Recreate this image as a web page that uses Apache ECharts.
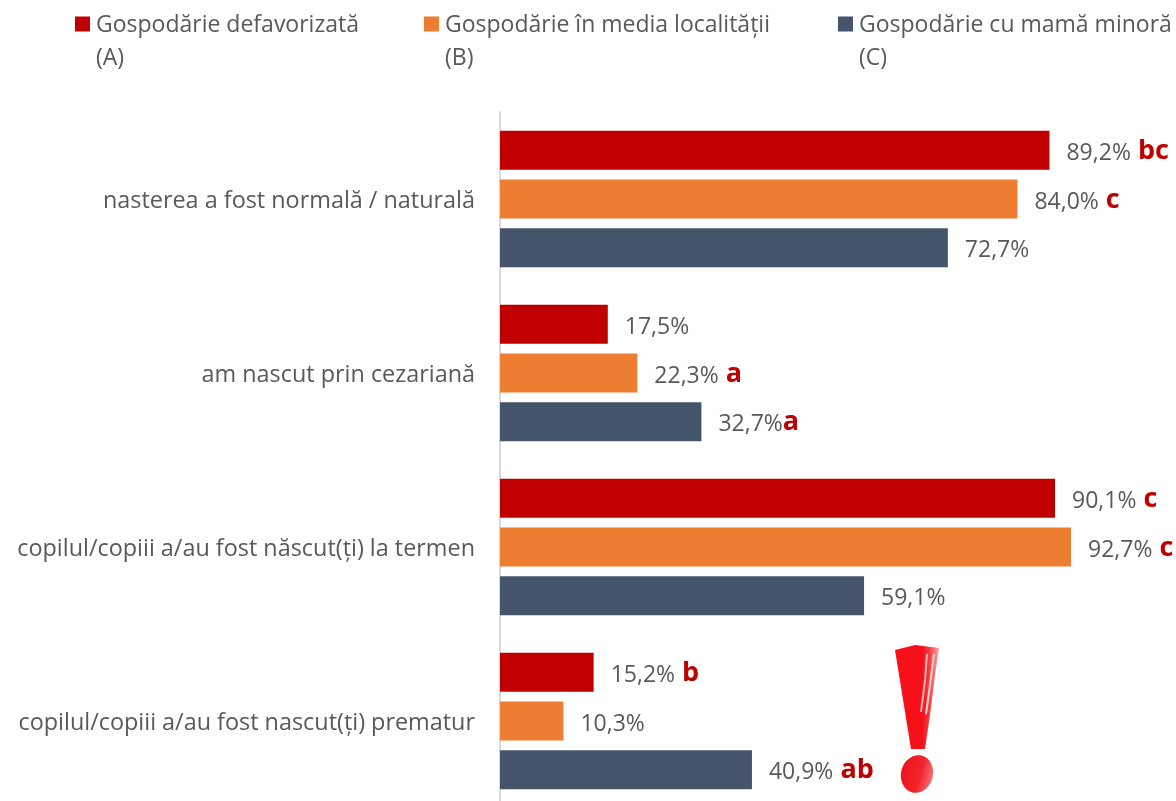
<!DOCTYPE html>
<html>
<head>
<meta charset="utf-8">
<title>Nastere</title>
<style>
	html, body { margin: 0; padding: 0; background: #fff; }
	#main { width: 1176px; height: 801px; }
</style>
<script src="https://cdn.jsdelivr.net/npm/echarts@6/dist/echarts.min.js"></script>
</head>
<body>
<div id="main"></div>
<script>
var categories = [
	'nasterea a fost normală / naturală',
	'am nascut prin cezariană',
	'copilul/copiii a/au fost născut(ți) la termen',
	'copilul/copiii a/au fost nascut(ți) prematur'
]
var seriesNames = ['Gospodărie defavorizată', 'Gospodărie în media localității', 'Gospodărie cu mamă minoră']
var seriesNotes = ['(A)', '(B)', '(C)']
var seriesColors = ['#C00000', '#ED7D31', '#44546A']

var valuesA = [89.2, 17.5, 90.1, 15.2]
var valuesB = [84.0, 22.3, 92.7, 10.3]
var valuesC = [72.7, 32.7, 59.1, 40.9]

// literele de semnificatie de langa procente
var lettersA = [' bc', '', ' c', ' b']
var lettersB = [' c', ' a', ' c', '']
var lettersC = ['', 'a', '', ' ab']

var fontName = '"Open Sans", sans-serif'
var textColor = '#595959'
var legendX = [75, 424, 838]

function makeSeries(index, values, letters) {
	return {
		name: seriesNames[index],
		type: 'bar',
		data: values,
		barWidth: 39,
		barGap: '25%',
		itemStyle: { color: seriesColors[index] },
		label: {
			show: true,
			position: 'right',
			distance: 17,
			offset: [0, 3],
			formatter: function (p) {
				var text = p.value.toFixed(1).replace('.', ',') + '%'
				var letter = letters[p.dataIndex]
				return '{val|' + text + '}' + (letter ? '{sig|' + letter + '}' : '')
			},
			rich: {
				val: { fontFamily: fontName, fontSize: 23, color: textColor },
				sig: { fontFamily: fontName, fontSize: 27, fontWeight: 'bold', color: '#C00000', padding: [0, 0, 4, 0] }
			}
		}
	}
}

var chartDom = document.getElementById('main')
var myChart = echarts.init(chartDom)
var option

var legends = seriesNames.map(function (name, i) {
	return {
		data: [name],
		left: legendX[i],
		top: 14,
		padding: 0,
		itemWidth: 15,
		itemHeight: 18,
		itemGap: 0,
		selectedMode: false,
		// patrat de 15 cu un punct gol dedesubt, ca sa stea putin mai sus de text
		icon: 'path://M0 0H15V15H0Z M0 18L0 18',
		textStyle: { fontFamily: fontName, fontSize: 23, color: textColor, padding: [0, 0, 0, 1] }
	}
})

var notes = seriesNotes.map(function (note, i) {
	return {
		type: 'text',
		left: legendX[i] + 21,
		top: 47,
		style: { text: note, fontFamily: fontName, fontSize: 23, fill: textColor }
	}
})

// semnul de exclamare desenat de mana, din poza
var markFill = new echarts.graphic.LinearGradient(0, 0, 1, 0, [
	{ offset: 0, color: '#F5101A' },
	{ offset: 0.62, color: '#F5101A' },
	{ offset: 0.8, color: '#F6444A' },
	{ offset: 1, color: '#F9A8A8' }
])
var dotFill = new echarts.graphic.LinearGradient(0, 0, 1, 0, [
	{ offset: 0, color: '#F0141C' },
	{ offset: 0.6, color: '#F0242C' },
	{ offset: 1, color: '#F57075' }
])
var mark = [
	{
		type: 'polygon',
		shape: { points: [[895, 650], [915, 645], [939, 648], [935, 675], [930, 715], [925, 749], [911, 749]] },
		style: { fill: markFill }
	},
	{
		type: 'polyline',
		shape: { points: [[927, 654], [925, 680], [921, 712]] },
		style: { stroke: '#FBB4B4', lineWidth: 2, fill: null }
	},
	{
		type: 'polyline',
		shape: { points: [[934, 654], [930, 685], [926, 714]] },
		style: { stroke: '#FBD0D0', lineWidth: 2, fill: null }
	},
	{
		type: 'ellipse',
		rotation: -0.25,
		originX: 917,
		originY: 774,
		shape: { cx: 917, cy: 774, rx: 16, ry: 19 },
		style: { fill: dotFill }
	}
].map(function (el) {
	el.z = 20
	return el
})

option = {
	animation: false,
	backgroundColor: '#fff',
	legend: legends,
	grid: { left: 500, top: 112, width: 616, height: 696, outerBoundsMode: 'none' },
	xAxis: {
		type: 'value',
		min: 0,
		max: 100,
		show: false
	},
	yAxis: {
		type: 'category',
		data: categories,
		inverse: true,
		axisLine: { show: true, lineStyle: { color: '#D9D9D9', width: 2 } },
		axisTick: { show: false },
		axisLabel: {
			margin: 25,
			formatter: '{cat|{value}}',
			rich: {
				cat: { fontFamily: fontName, fontSize: 23.4, color: textColor, padding: [4, 0, 0, 0] }
			}
		}
	},
	series: [
		makeSeries(0, valuesA, lettersA),
		makeSeries(1, valuesB, lettersB),
		makeSeries(2, valuesC, lettersC)
	],
	graphic: notes.concat(mark)
}

option && myChart.setOption(option)
</script>
</body>
</html>
